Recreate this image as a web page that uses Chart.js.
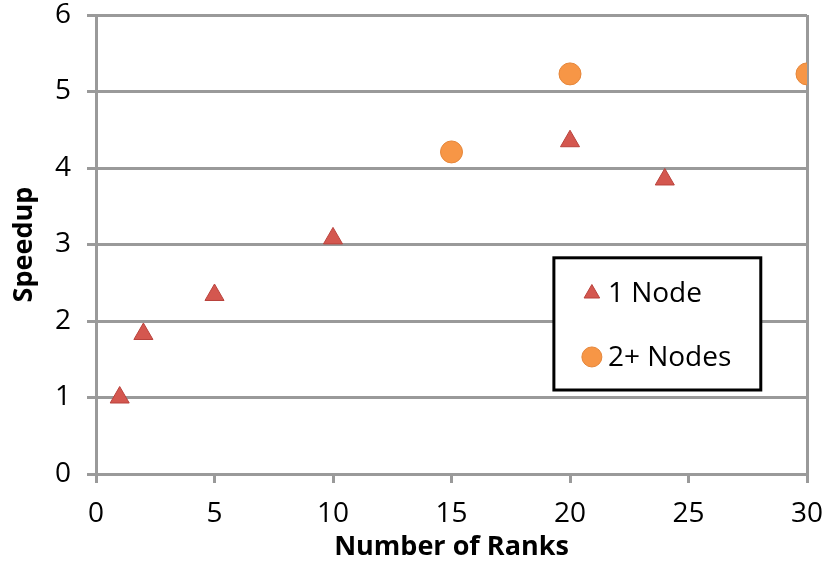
<!DOCTYPE html>
<html>
<head>
<meta charset="utf-8">
<script src="https://cdn.jsdelivr.net/npm/chart.js@4/dist/chart.umd.min.js"></script>
<style>
  html, body { margin: 0; padding: 0; background: #fff; }
  #wrap { width: 827px; height: 564px; }
</style>
</head>
<body>
<div id="wrap"><canvas id="myChart" width="827" height="564"></canvas></div>
<script>
'use strict';
// values
const oneNodeRanks = [1, 2, 5, 10, 20, 24];
const oneNodeSpeedup = [1.0, 1.83, 2.34, 3.08, 4.35, 3.85];
const multiNodeRanks = [15, 20, 30];
const multiNodeSpeedup = [4.21, 5.23, 5.23];
const seriesNames = ['1 Node', '2+ Nodes'];
const xTicks = [0, 5, 10, 15, 20, 25, 30];
const yTicks = [0, 1, 2, 3, 4, 5, 6];

const gridGray = '#9a9a9a';
const fontName = "'Open Sans', sans-serif";

function toPoints(xs, ys) {
  let pts = [];
  for (let i = 0; i < xs.length; i++) {
    pts.push({ x: xs[i], y: ys[i] });
  }
  return pts;
}

// legend box sitting inside the plot area
const boxLegend = {
  id: 'boxLegend',
  afterDraw(chart) {
    const ctx = chart.ctx;
    const a = chart.chartArea;
    const w = a.right - a.left;
    const h = a.bottom - a.top;
    const x1 = a.left + w * 0.644;
    const x2 = a.left + w * 0.935;
    const y1 = a.top + h * 0.529;
    const y2 = a.top + h * 0.817;
    ctx.save();
    ctx.fillStyle = '#fff';
    ctx.fillRect(x1, y1, x2 - x1, y2 - y1);
    ctx.strokeStyle = '#000';
    ctx.lineWidth = 3;
    ctx.strokeRect(x1, y1, x2 - x1, y2 - y1);
    const rows = [y1 + (y2 - y1) * 0.27, y1 + (y2 - y1) * 0.75];
    chart.data.datasets.forEach((ds, i) => {
      ctx.fillStyle = ds.backgroundColor;
      ctx.strokeStyle = ds.borderColor;
      ctx.lineWidth = 1;
      Chart.helpers.drawPoint(ctx, {
        pointStyle: ds.pointStyle,
        radius: ds.pointStyle === 'triangle' ? 9 : 10,
        borderWidth: 1
      }, x1 + 38, rows[i]);
      ctx.fillStyle = '#000';
      ctx.font = '28px ' + fontName;
      ctx.textBaseline = 'middle';
      ctx.textAlign = 'left';
      ctx.fillText(seriesNames[i], x1 + 54, rows[i] + 1);
    });
    ctx.restore();
  }
};

const ctx = document.getElementById('myChart').getContext('2d');

let config = {
  type: 'scatter',
  data: {
    datasets: [{
      label: seriesNames[0],
      data: toPoints(oneNodeRanks, oneNodeSpeedup),
      pointStyle: 'triangle',
      pointRadius: 11,
      pointHoverRadius: 11,
      backgroundColor: '#d4574f',
      borderColor: '#b9423c',
      borderWidth: 1
    },
    {
      label: seriesNames[1],
      data: toPoints(multiNodeRanks, multiNodeSpeedup),
      pointStyle: 'circle',
      pointRadius: 11,
      pointHoverRadius: 11,
      backgroundColor: '#f79646',
      borderColor: '#e5863a',
      borderWidth: 1
    }]
  },
  options: {
    responsive: false,
    animation: false,
    layout: { padding: { top: 15, right: 20, left: 0, bottom: 0 } },
    plugins: {
      legend: { display: false },
      tooltip: { enabled: false }
    },
    scales: {
      x: {
        type: 'linear',
        min: 0,
        max: 30,
        afterBuildTicks: (s) => { s.ticks = xTicks.map(v => ({ value: v })); },
        afterFit: (s) => {
          s.height = 90;
          s.paddingLeft = 0;
          s.paddingRight = 0;
        },
        ticks: { color: '#000', font: { family: fontName, size: 28 }, padding: 14, maxRotation: 0 },
        grid: {
          color: (c) => (c.tick && (c.tick.value === 0 || c.tick.value === 30)) ? gridGray : 'rgba(0,0,0,0)',
          tickColor: gridGray,
          lineWidth: 3,
          tickLength: 9
        },
        border: { display: true, color: gridGray, width: 3 },
        title: {
          display: true,
          text: 'Number of Ranks',
          color: '#000',
          font: { family: fontName, size: 27, weight: 'bold' },
          padding: { top: 0, bottom: 0 }
        }
      },
      y: {
        min: 0,
        max: 6,
        afterBuildTicks: (s) => { s.ticks = yTicks.map(v => ({ value: v })); },
        afterFit: (s) => {
          s.width = 96;
          s.paddingTop = 0;
          s.paddingBottom = 0;
        },
        ticks: { color: '#000', font: { family: fontName, size: 28 }, padding: 16 },
        grid: { color: gridGray, lineWidth: 3, tickLength: 9 },
        border: { display: true, color: gridGray, width: 3 },
        title: {
          display: true,
          text: 'Speedup',
          color: '#000',
          font: { family: fontName, size: 27, weight: 'bold' },
          padding: { top: 8, bottom: 0 }
        }
      }
    }
  },
  plugins: [boxLegend]
};
const myChart = new Chart(ctx, config);
</script>
</body>
</html>
